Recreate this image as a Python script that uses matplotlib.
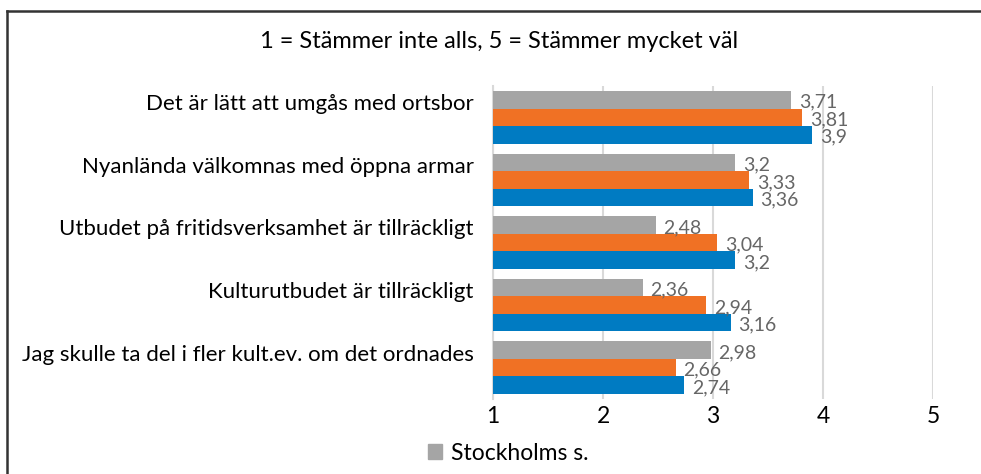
import numpy as np
import matplotlib.pyplot as plt
from matplotlib.lines import Line2D
from matplotlib.patches import Patch

plt.rcParams['font.family'] = ['Lato', 'DejaVu Sans']

# ── Data ──────────────────────────────────────────────────────────────────────
categories = [
    'Det är lätt att umgås med ortsbor',
    'Nyanlända välkomnas med öppna armar',
    'Utbudet på fritidsverksamhet är tillräckligt',
    'Kulturutbudet är tillräckligt',
    'Jag skulle ta del i fler kult.ev. om det ordnades',
]
stockholm = [3.71, 3.20, 2.48, 2.36, 2.98]
serie_orange = [3.81, 3.33, 3.04, 2.94, 2.66]
serie_blue = [3.90, 3.36, 3.20, 3.16, 2.74]
x_ticks = [1, 2, 3, 4, 5]

series = [
    ('Stockholms s.', stockholm, '#A5A5A5'),
    ('Serie 2', serie_orange, '#F07124'),
    ('Serie 3', serie_blue, '#007BC2'),
]

def fmt(v):
    return f'{v:g}'.replace('.', ',')

# ── Figure ────────────────────────────────────────────────────────────────────
fig = plt.figure(figsize=(9.81, 4.74), dpi=100)
ax = fig.add_axes([493/981, 1 - 399/474, 440/981, 313/474])

y = np.arange(len(categories))
h = 0.28
for k, (name, vals, col) in enumerate(series):
    pos = y + (k - 1) * h
    ax.barh(pos, np.array(vals) - 1, left=1, height=h, color=col, label=name, zorder=3)
    for p, v in zip(pos, vals):
        ax.text(v + 0.07, p + 0.04, fmt(v), va='center', ha='left',
                fontsize=14, color='#666666', zorder=4)

ax.set_xlim(1, 5)
ax.set_ylim(len(categories) - 0.5, -0.5)
ax.set_xticks(x_ticks)
ax.set_xticklabels([str(t) for t in x_ticks], fontsize=16.5)
# category labels sit a little above the middle of each group, as in the original
ax.set_yticks(y - 0.24)
ax.set_yticklabels(categories, fontsize=16)
ax.tick_params(length=0)
ax.tick_params(axis='x', pad=5)
ax.tick_params(axis='y', pad=14)
ax.grid(axis='x', color='#D9D9D9', linewidth=1.5, zorder=0)
for s in ['top', 'right', 'bottom']:
    ax.spines[s].set_visible(False)
ax.spines['left'].set_color('#D9D9D9')
ax.spines['left'].set_linewidth(1.5)

fig.text(499/981, 1 - 41/474, '1 = Stämmer inte alls, 5 = Stämmer mycket väl',
         ha='center', va='center', fontsize=17)

# legend (only the first entry is inside the picture)
fig.legend(handles=[Patch(color='#A5A5A5')], labels=['Stockholms s.'],
           loc='center left', bbox_to_anchor=(428/981, 1 - 453/474),
           frameon=False, fontsize=16.5, handlelength=0.6, handleheight=0.6,
           handletextpad=0.4, borderaxespad=0, borderpad=0)

# outer frame of the chart (left and top edges)
fig.add_artist(Line2D([7/981, 7/981], [0, 1 - 11/474], color='#333333', lw=1.8,
                      transform=fig.transFigure))
fig.add_artist(Line2D([7/981, 1], [1 - 11/474, 1 - 11/474], color='#333333', lw=1.8,
                      transform=fig.transFigure))

fig.savefig('out.png', dpi=100)
